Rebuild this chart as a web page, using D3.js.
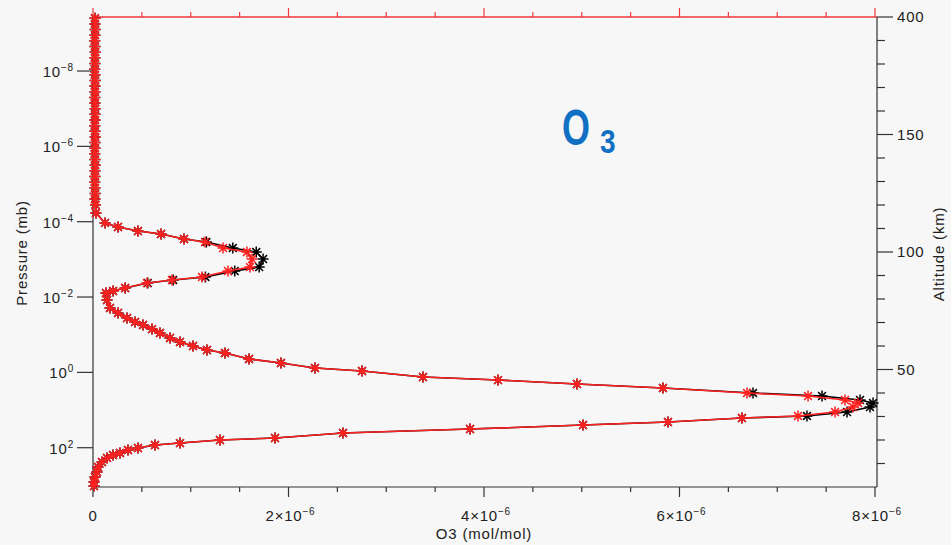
<!DOCTYPE html>
<html>
<head>
<meta charset="utf-8">
<script src="https://cdn.jsdelivr.net/npm/d3@7"></script>
<style>
  html, body { margin: 0; padding: 0; background: #f7f7f7; }
  svg { display: block; font-family: "Liberation Sans", Arial, sans-serif; }
</style>
</head>
<body>
<svg id="chart" width="951" height="545"></svg>
<script>
// ---------- data ----------
const pressure = [
  3.98e-10, 5.62e-10, 7.94e-10, 1.12e-9, 1.58e-9, 2.24e-9, 3.16e-9, 4.47e-9, 6.31e-9, 8.91e-9,
  1.26e-8, 1.78e-8, 2.51e-8, 3.55e-8, 5.01e-8, 7.08e-8, 1.0e-7, 1.41e-7, 2.0e-7, 2.82e-7,
  3.98e-7, 5.62e-7, 7.94e-7, 1.12e-6, 1.58e-6, 2.24e-6, 3.16e-6, 4.47e-6, 6.31e-6, 8.91e-6,
  1.26e-5, 1.78e-5, 2.51e-5, 3.55e-5, 5.89e-5,
  1.08e-4, 1.38e-4, 1.77e-4, 2.12e-4, 2.88e-4, 3.46e-4, 5.0e-4, 6.38e-4, 9.8e-4,
  1.60e-3, 2.04e-3, 2.94e-3, 3.53e-3, 4.25e-3, 5.77e-3, 6.92e-3, 7.82e-3,
  1.20e-2, 1.95e-2, 2.65e-2, 3.61e-2, 4.60e-2, 5.53e-2, 7.08e-2, 9.02e-2,
  0.122, 0.156, 0.200, 0.255, 0.306, 0.442, 0.564, 0.766, 0.920,
  1.33, 1.60, 2.04, 2.60, 3.53, 4.25, 5.42, 6.50, 8.32,
  11.3, 14.4, 16.3, 20.8, 25.0, 31.9, 40.7, 55.3, 62.5, 75.2, 84.9,
  102, 115, 138, 156, 187, 240, 326, 442, 600, 815, 1040
];
// O3 mixing ratio in ppm (x 1e-6 mol/mol)
const o3Red = [
  0.02, 0.02, 0.022, 0.02, 0.018, 0.02, 0.022, 0.02, 0.02, 0.018,
  0.02, 0.022, 0.02, 0.02, 0.018, 0.02, 0.022, 0.02, 0.02, 0.018,
  0.02, 0.022, 0.02, 0.02, 0.018, 0.02, 0.022, 0.02, 0.02, 0.018,
  0.02, 0.022, 0.02, 0.025, 0.03,
  0.123, 0.256, 0.460, 0.696, 0.931, 1.146, 1.330, 1.575, 1.627,
  1.606, 1.381, 1.115, 0.808, 0.552, 0.327, 0.205, 0.133,
  0.143, 0.174, 0.256, 0.348, 0.430, 0.512, 0.604, 0.685,
  0.788, 0.890, 1.023, 1.166, 1.350, 1.596, 1.923, 2.271, 2.752,
  3.376, 4.143, 4.951, 5.831, 6.691, 7.315, 7.693, 7.826, 7.775,
  7.591, 7.212, 6.639, 5.882, 5.013, 3.857, 2.558, 1.862, 1.299, 0.890, 0.634,
  0.460, 0.358, 0.276, 0.205, 0.143, 0.092, 0.051, 0.041, 0.020, 0.010, 0.010
];
const o3Black = [
  0.02, 0.02, 0.022, 0.02, 0.018, 0.02, 0.022, 0.02, 0.02, 0.018,
  0.02, 0.022, 0.02, 0.02, 0.018, 0.02, 0.022, 0.02, 0.02, 0.018,
  0.02, 0.022, 0.02, 0.02, 0.018, 0.02, 0.022, 0.02, 0.02, 0.018,
  0.02, 0.022, 0.02, 0.025, 0.03,
  0.123, 0.256, 0.460, 0.696, 0.931, 1.160, 1.430, 1.670, 1.740,
  1.700, 1.450, 1.150, 0.820, 0.560, 0.330, 0.205, 0.133,
  0.143, 0.174, 0.256, 0.348, 0.430, 0.512, 0.604, 0.685,
  0.788, 0.890, 1.023, 1.166, 1.350, 1.596, 1.923, 2.271, 2.752,
  3.376, 4.143, 4.951, 5.831, 6.752, 7.458, 7.847, 7.980, 7.949,
  7.714, 7.304, 6.639, 5.882, 5.013, 3.857, 2.558, 1.862, 1.299, 0.890, 0.634,
  0.460, 0.358, 0.276, 0.205, 0.143, 0.092, 0.051, 0.041, 0.020, 0.010, 0.010
];
const xTickValues = [0, 2e-6, 4e-6, 6e-6, 8e-6];
const xTickMantissa = ["0", "2", "4", "6", "8"];
const xMinorTicks = [0.5e-6, 1e-6, 1.5e-6, 2.5e-6, 3e-6, 3.5e-6, 4.5e-6, 5e-6, 5.5e-6, 6.5e-6, 7e-6, 7.5e-6];
const pTickValues = [1e-8, 1e-6, 1e-4, 1e-2, 1, 100];
const pTickExponents = ["\u22128", "\u22126", "\u22124", "\u22122", "0", "2"];
const altTickValues = [50, 100, 150, 200];
const altTickLabels = ["50", "100", "150", "400"];
const altMinorTicks = [10, 20, 30, 40, 60, 70, 80, 90, 110, 120, 130, 140, 160, 170, 180, 190];

// ---------- layout ----------
const PL = 93, PR = 877, PT = 17, PB = 487;
const svg = d3.select("#chart");
svg.append("rect").attr("width", 951).attr("height", 545).attr("fill", "#f7f7f7");

const xS = d3.scaleLinear().domain([0, 8e-6]).range([PL, 875]);
const yS = d3.scaleLog().domain([Math.pow(10, 3.043), Math.pow(10, -9.434)]).range([PB, PT]);
const yAlt = d3.scaleLinear().domain([0, 200]).range([PB, PT]);

const axisColor = "#333";
const textColor = "#222";
const FS = 15, LS = 0.8;

// bottom axis
const gBottom = svg.append("g").attr("transform", `translate(0,${PB})`);
gBottom.append("line").attr("x1", PL).attr("x2", PR).attr("stroke", axisColor).attr("stroke-width", 1.2);
gBottom.selectAll("line.maj").data(xTickValues).join("line").attr("class", "maj")
  .attr("x1", d => xS(d)).attr("x2", d => xS(d)).attr("y1", 0).attr("y2", 10)
  .attr("stroke", axisColor).attr("stroke-width", 1.2);
gBottom.selectAll("line.min").data(xMinorTicks).join("line").attr("class", "min")
  .attr("x1", d => xS(d)).attr("x2", d => xS(d)).attr("y1", 0).attr("y2", 5)
  .attr("stroke", axisColor).attr("stroke-width", 1.2);
const xl = gBottom.selectAll("text.tl").data(xTickValues).join("text").attr("class", "tl")
  .attr("x", d => xS(d) + (d === 0 ? 0 : 2)).attr("y", 34).attr("text-anchor", "middle")
  .attr("font-size", FS).attr("letter-spacing", LS).attr("fill", textColor);
xl.each(function(d, i) {
  const t = d3.select(this);
  if (d === 0) { t.text(xTickMantissa[i]); return; }
  t.append("tspan").text(xTickMantissa[i] + "\u00d710");
  t.append("tspan").attr("dy", -6).attr("font-size", 10).text("\u22126");
});
svg.append("text").attr("x", 484).attr("y", 539).attr("text-anchor", "middle")
  .attr("font-size", FS).attr("letter-spacing", LS).attr("fill", textColor).text("O3 (mol/mol)");

// top axis (red)
const gTop = svg.append("g").attr("transform", `translate(0,${PT})`);
gTop.append("line").attr("x1", PL).attr("x2", PR).attr("stroke", "#ee3a3a").attr("stroke-width", 1.5);
gTop.selectAll("line.maj").data(xTickValues).join("line").attr("class", "maj")
  .attr("x1", d => xS(d)).attr("x2", d => xS(d)).attr("y1", 0).attr("y2", -9)
  .attr("stroke", "#ee3a3a").attr("stroke-width", 1.2);
gTop.selectAll("line.min").data(xMinorTicks).join("line").attr("class", "min")
  .attr("x1", d => xS(d)).attr("x2", d => xS(d)).attr("y1", 0).attr("y2", -5)
  .attr("stroke", "#ee3a3a").attr("stroke-width", 1.2);

// left axis
const gLeft = svg.append("g");
gLeft.append("line").attr("x1", PL).attr("x2", PL).attr("y1", PT).attr("y2", PB).attr("stroke", axisColor).attr("stroke-width", 1.2);
gLeft.selectAll("line.maj").data(pTickValues).join("line").attr("class", "maj")
  .attr("x1", PL - 16).attr("x2", PL).attr("y1", d => yS(d)).attr("y2", d => yS(d))
  .attr("stroke", axisColor).attr("stroke-width", 1.2);
const yl = gLeft.selectAll("text.tl").data(pTickValues).join("text").attr("class", "tl")
  .attr("x", 74).attr("y", d => yS(d) + 6).attr("text-anchor", "end")
  .attr("font-size", FS).attr("letter-spacing", LS).attr("fill", textColor);
yl.each(function(d, i) {
  const t = d3.select(this);
  t.append("tspan").text("10");
  t.append("tspan").attr("dy", -6).attr("font-size", 10).text(pTickExponents[i]);
});
svg.append("text").attr("transform", "translate(27,253) rotate(-90)").attr("text-anchor", "middle")
  .attr("font-size", FS).attr("letter-spacing", LS).attr("fill", textColor).text("Pressure (mb)");

// right axis
const gRight = svg.append("g");
gRight.append("line").attr("x1", PR).attr("x2", PR).attr("y1", PT).attr("y2", PB).attr("stroke", axisColor).attr("stroke-width", 1.2);
gRight.selectAll("line.maj").data(altTickValues).join("line").attr("class", "maj")
  .attr("x1", PR).attr("x2", PR + 16).attr("y1", d => yAlt(d)).attr("y2", d => yAlt(d))
  .attr("stroke", axisColor).attr("stroke-width", 1.2);
gRight.selectAll("line.min").data(altMinorTicks).join("line").attr("class", "min")
  .attr("x1", PR).attr("x2", PR + 8).attr("y1", d => yAlt(d)).attr("y2", d => yAlt(d))
  .attr("stroke", axisColor).attr("stroke-width", 1.2);
gRight.selectAll("text.tl").data(altTickValues).join("text").attr("class", "tl")
  .attr("x", 897).attr("y", d => yAlt(d) + 5).attr("text-anchor", "start")
  .attr("font-size", FS).attr("letter-spacing", LS).attr("fill", textColor).text((d, i) => altTickLabels[i]);
svg.append("text").attr("transform", "translate(944,254) rotate(-90)").attr("text-anchor", "middle")
  .attr("font-size", FS).attr("letter-spacing", LS).attr("fill", textColor).text("Altitude (km)");

// series
const rows = (arr) => pressure.map((p, i) => ({ p, v: arr[i] * 1e-6 }));
const lineGen = d3.line().x(d => xS(d.v)).y(d => yS(d.p));
const star = (r) => {
  const a = r * Math.SQRT1_2;
  return `M${-r},0L${r},0M0,${-r}L0,${r}M${-a},${-a}L${a},${a}M${-a},${a}L${a},${-a}`;
};
function drawSeries(arr, color) {
  const data = rows(arr);
  const g = svg.append("g");
  g.append("path").datum(data).attr("d", lineGen).attr("fill", "none")
    .attr("stroke", color).attr("stroke-width", 1.6);
  g.selectAll("path.m").data(data).join("path").attr("class", "m")
    .attr("transform", d => `translate(${xS(d.v)},${yS(d.p)})`)
    .attr("d", star(5.5)).attr("fill", "none").attr("stroke", color).attr("stroke-width", 1.5);
}
drawSeries(o3Black, "#000000");
drawSeries(o3Red, "#ff2020");

// title
const gTitle = svg.append("g").attr("fill", "#1170c4").attr("font-weight", "bold");
gTitle.append("text").attr("transform", "translate(562,145) scale(0.72,1)")
  .attr("font-size", 50).text("O");
gTitle.append("text").attr("transform", "translate(600,153) scale(0.85,1)")
  .attr("font-size", 33).text("3");
</script>
</body>
</html>
